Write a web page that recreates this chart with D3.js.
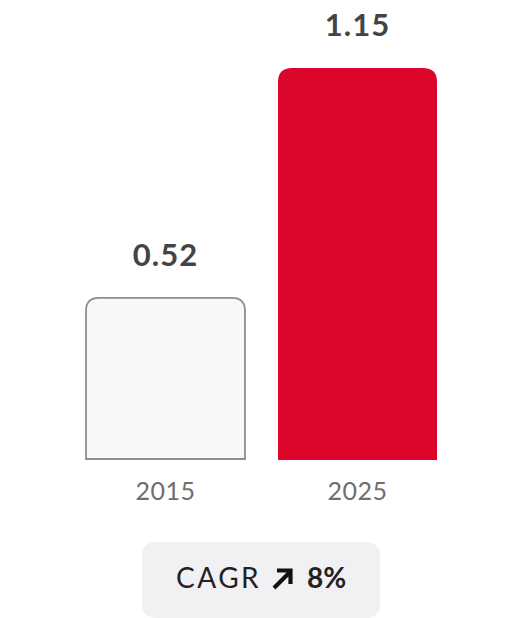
<!DOCTYPE html>
<html lang="en">
<head>
    <meta charset="UTF-8">
    <title>CAGR bar chart</title>
    <script src="https://d3js.org/d3.v7.min.js"></script>
    <style>
        body { margin: 0; background: #fff; font-family: "Lato", "Noto Sans", sans-serif; }
    </style>
</head>
<body>
    <svg width="522" height="618"></svg>
    <script>
        // data
        const years = ["2015", "2025"];
        const values = [0.52, 1.15];
        const cagrLabel = "CAGR";
        const cagrValue = "8%";

        const svg = d3.select("svg");
        const baseY = 460;

        const x = d3.scaleBand()
            .domain(years)
            .range([86, 437])
            .paddingInner(0.172)
            .paddingOuter(0);

        // bars are not drawn from zero in the original
        const y = d3.scaleLinear()
            .domain([0.076, 1.15])
            .range([baseY, 68]);

        // rect with rounded top corners only
        function topRounded(x0, y0, w, h, r) {
            return `M${x0},${y0 + h}V${y0 + r}Q${x0},${y0} ${x0 + r},${y0}` +
                   `H${x0 + w - r}Q${x0 + w},${y0} ${x0 + w},${y0 + r}V${y0 + h}`;
        }

        const data = years.map((yr, i) => ({ year: yr, value: values[i] }));

        svg.selectAll("path.bar")
            .data(data)
            .enter()
            .append("path")
            .attr("class", "bar")
            .attr("d", (d, i) => {
                const x0 = x(d.year), w = x.bandwidth();
                const y0 = y(d.value);
                return i === 0
                    ? topRounded(x0, y0, w, baseY - y0 - 1, 13) + "Z"
                    : topRounded(x0, y0, w, baseY - y0, 14) + "Z";
            })
            .attr("fill", (d, i) => i === 0 ? "#f8f8fa" : "#dc052a")
            .attr("stroke", (d, i) => i === 0 ? "#8e8e8e" : "none")
            .attr("stroke-width", 1.8);

        // value labels
        svg.selectAll("text.val")
            .data(data)
            .enter()
            .append("text")
            .attr("class", "val")
            .attr("x", d => x(d.year) + x.bandwidth() / 2)
            .attr("y", d => y(d.value) - 32)
            .attr("text-anchor", "middle")
            .attr("font-size", 31)
            .attr("font-weight", 700)
            .attr("letter-spacing", 1)
            .attr("fill", "#444")
            .text(d => d.value.toFixed(2));

        // year labels
        const xAxis = svg.append("g")
            .attr("transform", `translate(0, ${baseY})`)
            .call(d3.axisBottom(x).tickSize(0).tickPadding(22));
        xAxis.select(".domain").remove();
        xAxis.selectAll("text")
            .attr("font-size", 25)
            .attr("font-family", "Lato, sans-serif")
            .attr("font-weight", 400)
            .attr("letter-spacing", 0.5)
            .attr("fill", "#6e6e6e")
            .attr("dy", "0.71em");

        // CAGR badge
        const badge = svg.append("g");
        badge.append("rect")
            .attr("x", 142).attr("y", 542)
            .attr("width", 238).attr("height", 76)
            .attr("rx", 13)
            .attr("fill", "#f1f0f3");
        badge.append("text")
            .attr("x", 176).attr("y", 588)
            .attr("font-size", 28)
            .attr("letter-spacing", 2.5)
            .attr("fill", "#222")
            .text(cagrLabel);
        badge.append("path")
            .attr("d", "M274,588L290,572M277,570.5H290.5V584")
            .attr("fill", "none")
            .attr("stroke", "#111")
            .attr("stroke-width", 4.2)
            .attr("stroke-linecap", "butt");
        badge.append("text")
            .attr("x", 307).attr("y", 588)
            .attr("font-size", 28)
            .attr("font-weight", 700)
            .attr("fill", "#222")
            .text(cagrValue);
    </script>
</body>
</html>
